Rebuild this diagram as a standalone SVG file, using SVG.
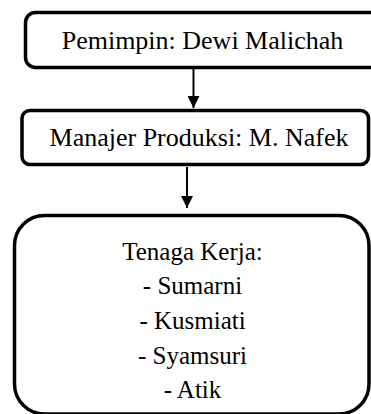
<svg xmlns="http://www.w3.org/2000/svg" width="371" height="414" viewBox="0 0 371 414">
<style>
.box{fill:#fff;stroke:#000;stroke-width:3.5}
.t{font-family:'Liberation Serif','DejaVu Serif',serif;font-size:25px;fill:#000;text-anchor:middle}
.big{font-size:26px}
.c{stroke:#000;stroke-width:2;fill:none}
</style>
<defs>
<marker id="ah" markerWidth="14" markerHeight="12" refX="12" refY="6" orient="auto" markerUnits="userSpaceOnUse">
<path d="M0,0 L12,6 L0,12 Z" fill="#000"/>
</marker>
</defs>
<g id="connectors">
<line class="c" x1="193.5" y1="69" x2="193.5" y2="108" marker-end="url(#ah)"/>
<line class="c" x1="187" y1="167" x2="187" y2="208" marker-end="url(#ah)"/>
</g>
<g id="pemimpin">
<rect class="box" x="25.5" y="12.5" width="370" height="55" rx="10"/>
<text class="t big" x="202.5" y="49">Pemimpin: Dewi Malichah</text>
</g>
<g id="manajer">
<rect class="box" x="22" y="110.5" width="346.5" height="54" rx="8"/>
<text class="t big" x="199" y="146">Manajer Produksi: M. Nafek</text>
</g>
<g id="tenaga">
<rect class="box" x="14.5" y="215.5" width="354.5" height="198.5" rx="30"/>
<text class="t" x="192.5" y="260">Tenaga Kerja:</text>
<text class="t" x="192.5" y="294">- Sumarni</text>
<text class="t" x="192.5" y="329">- Kusmiati</text>
<text class="t" x="192.5" y="364">- Syamsuri</text>
<text class="t" x="192.5" y="398">- Atik</text>
</g>
</svg>
